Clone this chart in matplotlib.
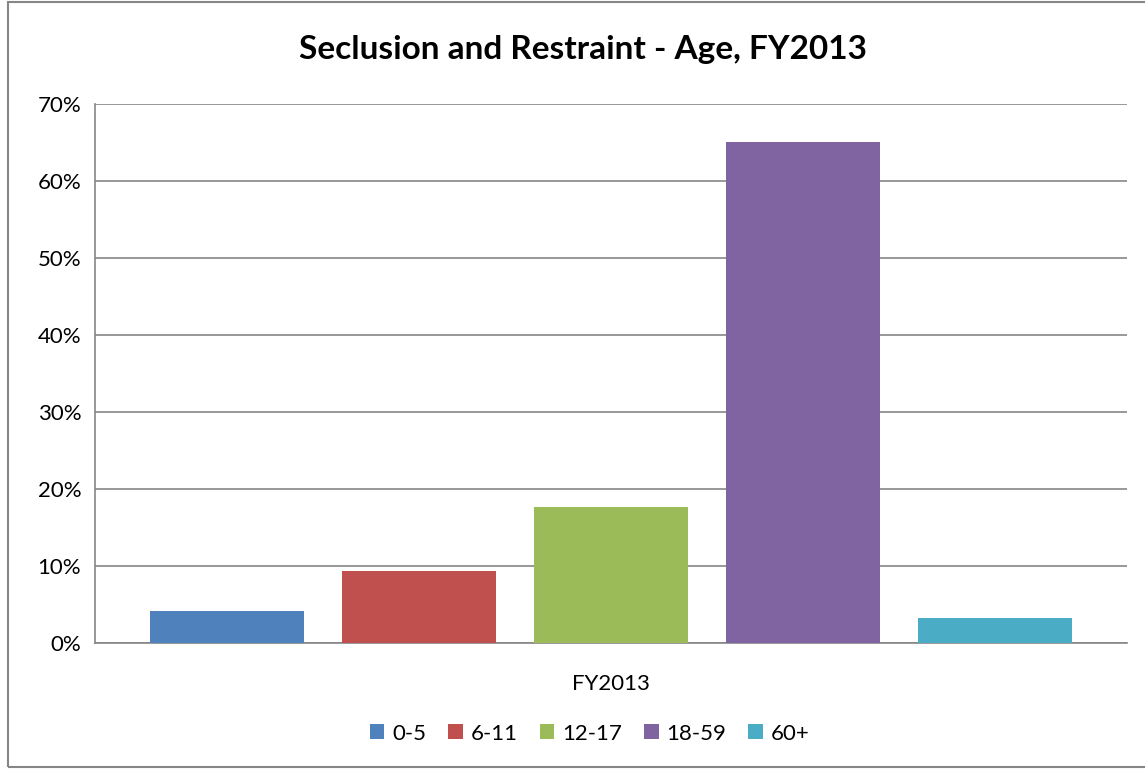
import matplotlib.pyplot as plt
from matplotlib.patches import Rectangle
from matplotlib.ticker import FuncFormatter

# age groups and share of seclusion/restraint events, FY2013
age_groups = ['0-5', '6-11', '12-17', '18-59', '60+']
shares = [4.2, 9.4, 17.7, 65.1, 3.3]
colors = ['#4F81BD', '#C0504D', '#9BBB59', '#8064A2', '#4BACC6']
category = 'FY2013'
yticks = [0, 10, 20, 30, 40, 50, 60, 70]

plt.rcParams['font.family'] = ['Lato', 'DejaVu Sans']

fig = plt.figure(figsize=(11.45, 7.69), dpi=100)
ax = fig.add_axes([0.083, 0.1638, 0.9013, 0.701])

step = 0.186
width = 0.149
for i, (grp, val, col) in enumerate(zip(age_groups, shares, colors)):
    ax.bar(0.5 + (i - 2) * step, val, width=width, color=col, label=grp, zorder=3)

ax.set_xlim(0, 1)
ax.set_ylim(0, 70)
ax.set_yticks(yticks)
ax.yaxis.set_major_formatter(FuncFormatter(lambda v, p: f'{v:.0f}%'))
ax.set_xticks([0.5])
ax.set_xticklabels([category])
ax.tick_params(axis='y', length=0, labelsize=16, colors='black', pad=10)
ax.tick_params(axis='x', length=0, labelsize=16, colors='black', pad=22)
ax.grid(axis='y', color='#868686', linewidth=1.2, zorder=0)
for side in ['top', 'right']:
    ax.spines[side].set_visible(False)
for side in ['left', 'bottom']:
    ax.spines[side].set_color('#868686')
    ax.spines[side].set_linewidth(1.2)

fig.text(0.509, 0.935, 'Seclusion and Restraint - Age, FY2013', ha='center', va='center',
         fontsize=24, fontweight='bold')

fig.legend(loc='center', bbox_to_anchor=(0.515, 0.046), ncol=5, frameon=False, fontsize=16,
           handlelength=0.65, handleheight=0.65, handletextpad=0.35, columnspacing=1.0)

fig.patches.append(Rectangle((8 / 1145, 2 / 769), 1.05, 765 / 769, transform=fig.transFigure,
                             fill=False, edgecolor='#868686', linewidth=1.5))

plt.savefig('out.png', dpi=100)
plt.close()
